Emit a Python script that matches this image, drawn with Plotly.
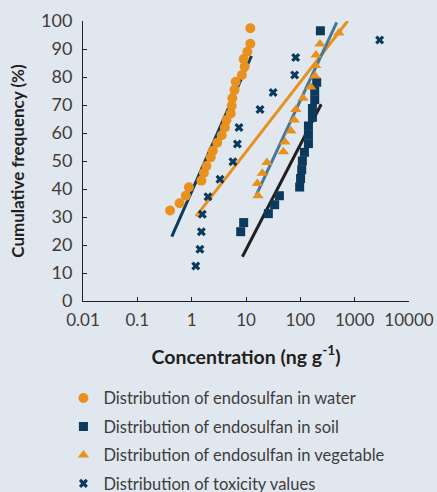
import plotly.graph_objects as go

# cumulative distributions (concentration in ng/g, frequency in %)
water_conc = [0.40, 0.60, 0.78, 0.89, 1.51, 1.68, 1.87, 2.24, 2.44, 2.95, 3.57, 4.08,
              4.37, 5.22, 5.45, 5.6, 6.14, 6.46, 8.40, 9.46, 9.06, 10.6, 12.0, 12.0]
water_freq = [32.3, 34.9, 37.6, 40.6, 43.0, 45.8, 48.2, 51.3, 53.7, 56.5, 59.2, 62.0,
              64.6, 67.0, 69.7, 72.4, 75.4, 78.3, 80.7, 83.7, 86.4, 89.0, 91.9, 97.4]

soil_conc = [7.98, 9.06, 25.8, 33.7, 41.2, 97.2, 101, 106, 109, 119, 141, 141,
             141, 167, 167, 184, 184, 200, 234]
soil_freq = [24.75, 28.0, 31.2, 34.4, 37.6, 40.7, 43.75, 46.9, 50.0, 53.1, 56.2, 59.4,
             62.5, 65.6, 68.75, 71.9, 75.0, 78.1, 96.5]

veg_conc = [16.6, 16.2, 20.0, 24.3, 48.7, 52.2, 67.0, 77.1, 82.8, 112, 155, 186,
            191, 194, 230, 514]
veg_freq = [37.6, 42.0, 45.6, 49.5, 53.3, 56.8, 60.7, 64.6, 68.4, 72.4, 76.4, 80.4,
            84.1, 87.9, 91.8, 95.7]

tox_conc = [1.19, 1.42, 1.51, 1.57, 2.0, 3.32, 5.75, 6.93, 7.43, 18.1, 31.6, 78.6, 82.1, 2885]
tox_freq = [12.5, 18.5, 24.75, 31.0, 37.25, 43.5, 49.75, 56.1, 62.0, 68.4, 74.5, 80.7, 87.0, 93.2]

# fitted lines (two end points each)
fit_water_x, fit_water_y = [0.43, 12.6], [23.0, 87.5]
fit_tox_x, fit_tox_y = [1.20, 743], [30.2, 100.0]
fit_veg_x, fit_veg_y = [15.5, 467], [37.9, 99.5]
fit_soil_x, fit_soil_y = [8.58, 242], [15.8, 70.25]

tick_vals = [0.01, 0.1, 1, 10, 100, 1000, 10000]
tick_text = ["0.01", "0.1", "1", "10", "100", "1000", "10000"]

ORANGE = "#e8911e"
NAVY = "#0b3a5c"
STEEL = "#46779a"
BLACK = "#231f20"
BG = "#e1e7ee"
FONT = "Lato"

fig = go.Figure()

# fit lines first so markers sit on top
for xs, ys, col in [(fit_water_x, fit_water_y, NAVY), (fit_tox_x, fit_tox_y, ORANGE),
                    (fit_veg_x, fit_veg_y, STEEL), (fit_soil_x, fit_soil_y, BLACK)]:
    fig.add_trace(go.Scatter(x=xs, y=ys, mode="lines", line=dict(color=col, width=3),
                             showlegend=False, hoverinfo="skip"))

series = [
    ("Distribution of endosulfan in water", water_conc, water_freq, "circle", ORANGE, 10),
    ("Distribution of endosulfan in soil", soil_conc, soil_freq, "square", NAVY, 9),
    ("Distribution of endosulfan in vegetable", veg_conc, veg_freq, "triangle-up", ORANGE, 10),
    ("Distribution of toxicity values", tox_conc, tox_freq, "x", NAVY, 8),
]
for name, xs, ys, sym, col, size in series:
    fig.add_trace(go.Scatter(x=xs, y=ys, mode="markers", name=name, legendgroup=name,
                             marker=dict(symbol=sym, color=col, size=size, line=dict(width=0))))

fig.update_xaxes(
    type="log", range=[-2, 4], tickvals=tick_vals, ticktext=tick_text, tickangle=0,
    ticks="inside", ticklen=4, tickcolor=BLACK, showline=True, linecolor=BLACK, linewidth=1,
    showgrid=False, zeroline=False, tickfont=dict(size=17, color="#3d3d3d"),
    ticklabeloverflow="allow", ticklabelstandoff=4,
    title=dict(text="<b>Concentration (ng g<sup>-1</sup>)</b>", font=dict(size=19.5, color="#231f20"),
               standoff=20),
)
fig.update_yaxes(
    range=[0, 100], dtick=10, ticks="inside", ticklen=4, tickcolor=BLACK,
    showline=True, linecolor=BLACK, linewidth=1, showgrid=False, zeroline=False,
    tickfont=dict(size=18, color="#3d3d3d"), ticklabelstandoff=6,
    title=dict(text="<b>Cumulative frequency (%)</b>", font=dict(size=17, color="#231f20"),
               standoff=12),
)

fig.update_layout(
    width=437, height=492,
    paper_bgcolor=BG, plot_bgcolor=BG,
    font=dict(family=FONT, color="#3d3d3d"),
    margin=dict(l=83, r=28, t=21, b=191, autoexpand=False),
    legend=dict(x=-0.06, y=-0.285, xanchor="left", yanchor="top", tracegroupgap=4,
                font=dict(size=16.5, color="#3d3d3d"), bgcolor="rgba(0,0,0,0)"),
)

# drop the default page margin so the figure sits at the window's top-left corner
fig.write_html("out.html", config={"displayModeBar": False},
               post_script="document.body.style.margin='0';")
